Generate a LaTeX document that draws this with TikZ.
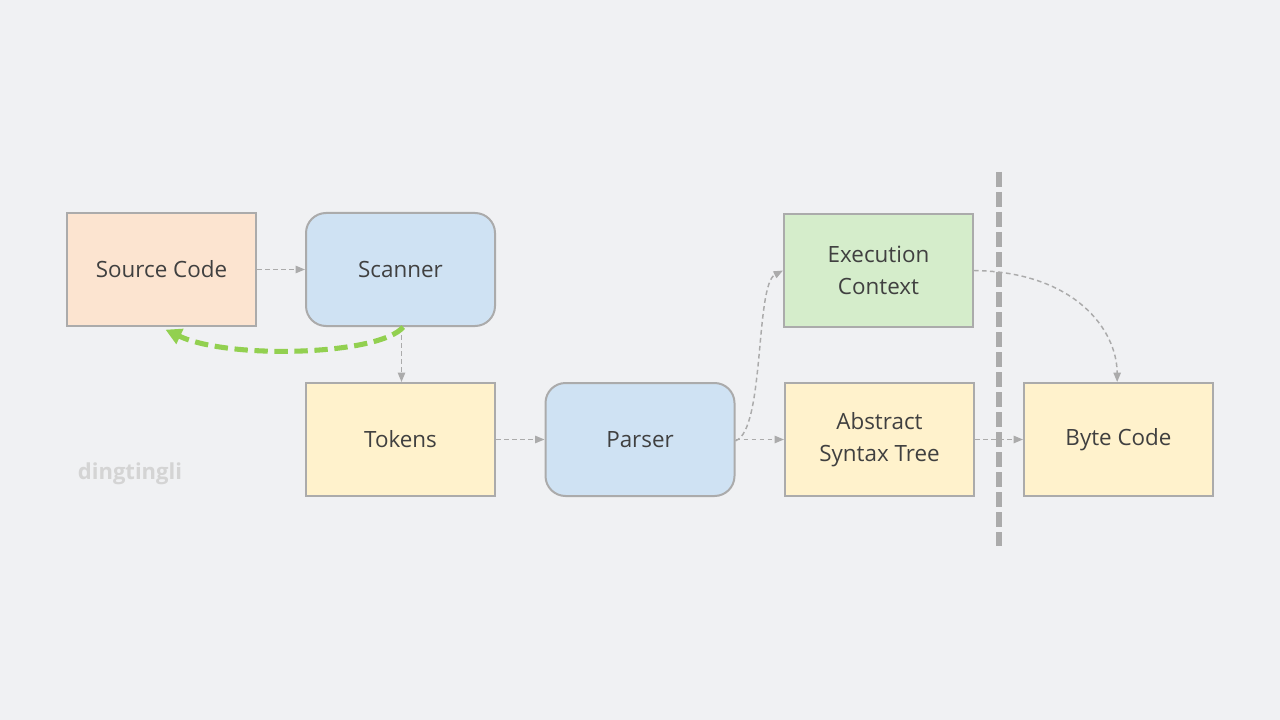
\documentclass[tikz,border=0pt]{standalone}
\usepackage{fontspec}
\setmainfont{Open Sans}
\usetikzlibrary{arrows.meta}
\definecolor{bg}{HTML}{F0F1F3}
\definecolor{bordc}{HTML}{ABABAB}
\definecolor{orangef}{HTML}{FCE4D0}
\definecolor{bluef}{HTML}{CFE2F3}
\definecolor{yellowf}{HTML}{FFF2CC}
\definecolor{greenf}{HTML}{D5EDCB}
\definecolor{txt}{HTML}{404040}
\definecolor{arrc}{HTML}{ABABAB}
\definecolor{greenarr}{HTML}{92D050}
\begin{document}
\begin{tikzpicture}[x=0.75pt,y=-0.75pt,
  box/.style={draw=bordc,line width=1.5pt,minimum width=189*0.75pt,minimum height=113*0.75pt,
    inner sep=0pt,text=txt,font=\fontsize{16.8}{24}\selectfont,align=center},
  rbox/.style={box,rounded corners=15pt},
  conn/.style={draw=arrc,line width=1.1pt,dash pattern=on 3.5pt off 2.5pt,-{Triangle[length=7pt,width=5.5pt]}}]
\useasboundingbox (0,0) rectangle (1280,720);
\fill[bg] (0,0) rectangle (1280,720);
\node[box,fill=orangef] (src) at (161.5,269.5) {Source Code};
\node[rbox,fill=bluef] (scan) at (400.5,269.5) {Scanner};
\node[box,fill=yellowf] (tok) at (400.5,439.5) {Tokens};
\node[rbox,fill=bluef] (par) at (640,439.5) {Parser};
\node[box,fill=greenf] (exe) at (878.5,270.5) {Execution\\Context};
\node[box,fill=yellowf] (ast) at (879.5,439.5) {Abstract\\Syntax Tree};
\node[box,fill=yellowf] (byte) at (1118.5,439.5) {Byte Code};
\node[font=\bfseries\fontsize{16.5}{18}\selectfont,text=black!17] (wm) at (130,474) {dingtingli};
\coordinate (vt) at (999,172);
\coordinate (vb) at (999,546);
\draw[draw=arrc,line width=3.8pt,dash pattern=on 11pt off 4pt] (vt) -- (vb);
\draw[conn] (src.east) -- (scan.west);
\draw[conn] ([xshift=0.75pt]scan.south) -- ([xshift=0.75pt]tok.north);
\draw[conn] (tok.east) -- (par.east -| par.west);
\draw[conn] (par.east) -- (ast.west);
\draw[conn] ([yshift=-1pt]par.east) .. controls (765,430) and (755,285) .. (exe.west);
\draw[conn] (exe.east) .. controls (1075,272) and (1117,330) .. ([xshift=-1pt]byte.north);
\draw[conn] (ast.east) -- (byte.west);
\draw[draw=greenarr,line width=3.8pt,dash pattern=on 10pt off 5pt,-{Triangle[length=12pt,width=12pt]}]
  ([xshift=2pt]scan.south) .. controls (380,355) and (230,360) .. ([xshift=3pt,yshift=-2pt]src.south);
\end{tikzpicture}
\end{document}
